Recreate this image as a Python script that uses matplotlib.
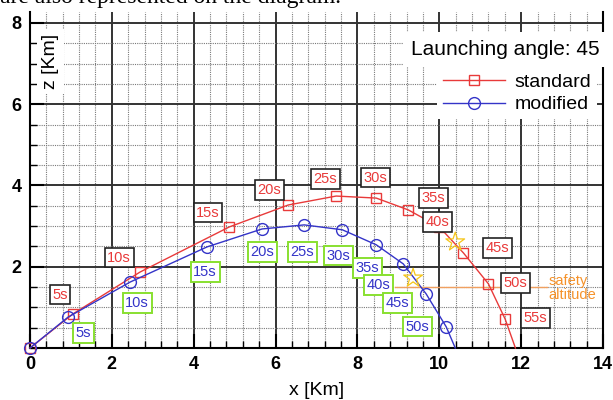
import numpy as np
import matplotlib.pyplot as plt
from matplotlib.lines import Line2D

plt.rcParams['font.family'] = ['Liberation Sans', 'DejaVu Sans']

# trajectory points every 5 s (last point = impact, no marker)
std_x = [0, 1.05, 2.69, 4.87, 6.31, 7.48, 8.46, 9.24, 10.0, 10.59, 11.2, 11.61, 11.86]
std_z = [0, 0.84, 1.87, 2.98, 3.52, 3.74, 3.69, 3.40, 2.98, 2.34, 1.58, 0.71, 0.0]
mod_x = [0, 0.93, 2.44, 4.33, 5.67, 6.70, 7.63, 8.46, 9.12, 9.68, 10.17, 10.39]
mod_z = [0, 0.76, 1.62, 2.49, 2.93, 3.03, 2.91, 2.54, 2.07, 1.33, 0.52, 0.0]

std_times = ['5s', '10s', '15s', '20s', '25s', '30s', '35s', '40s', '45s', '50s', '55s']
mod_times = ['5s', '10s', '15s', '20s', '25s', '30s', '35s', '40s', '45s', '50s']

# where the time tags sit
std_lab_x = [0.73, 2.18, 4.35, 5.84, 7.21, 8.44, 9.85, 9.95, 11.42, 11.86, 12.35]
std_lab_z = [1.31, 2.22, 3.33, 3.89, 4.16, 4.19, 3.69, 3.10, 2.46, 1.60, 0.74]
mod_lab_x = [1.30, 2.62, 4.28, 5.67, 6.65, 7.53, 8.24, 8.51, 8.97, 9.46]
mod_lab_z = [0.37, 1.11, 1.87, 2.36, 2.36, 2.27, 1.97, 1.55, 1.11, 0.52]

# stars on the curves
star_x = [10.39, 9.36]
star_z = [2.61, 1.72]

safety_z = 1.5
safety_x = [8.92, 12.64]

red = '#e83a3a'
blue = '#3434c8'

fig = plt.figure(figsize=(6.13, 4.0), dpi=100)
# caption line of the page above, cut by the crop
fig.text(0.0, 0.992, 'are also represented on the diagram.', family='Liberation Serif',
         fontsize=17, va='baseline', ha='left')
ax = fig.add_axes([30/613, 52/400, 573/613, 336/400])

ax.plot(std_x, std_z, color=red, lw=1.0, marker='s', ms=7, mfc='none', mec=red, mew=1.0,
        markevery=list(range(len(std_x) - 1)), zorder=4, clip_on=False)
ax.plot(mod_x, mod_z, color=blue, lw=1.0, marker='o', ms=8.5, mfc='none', mec=blue, mew=1.0,
        markevery=list(range(len(mod_x) - 1)), zorder=4, clip_on=False)

ax.plot(safety_x, [safety_z, safety_z], color='#f0a060', lw=1.0, zorder=3)
ax.text(13.14, 1.66, 'safety', color='#f5922a', fontsize=10.5, ha='center', va='center')
ax.text(13.24, 1.30, 'altitude', color='#f5922a', fontsize=10.5, ha='center', va='center')

ax.scatter(star_x, star_z, marker='*', s=200, facecolors='none', edgecolors='#f5c518',
           linewidths=0.9, zorder=5)

for t, x, z in zip(std_times, std_lab_x, std_lab_z):
    ax.text(x, z, t, color=red, fontsize=10.5, ha='center', va='center', zorder=6,
            bbox=dict(boxstyle='square,pad=0.18', fc='white', ec='#222222', lw=1.2))
for t, x, z in zip(mod_times, mod_lab_x, mod_lab_z):
    ax.text(x, z, t, color=blue, fontsize=10.5, ha='center', va='center', zorder=6,
            bbox=dict(boxstyle='square,pad=0.18', fc='white', ec='#88e030', lw=1.4))

ax.set_xlim(0, 14)
ax.set_ylim(0, 8.27)
ax.set_xticks(np.arange(0, 15, 2))
ax.set_xticks(np.arange(0, 14.01, 0.4), minor=True)
ax.set_yticks([2, 4, 6, 8])
ax.set_yticks(np.arange(0, 8.01, 0.5), minor=True)
ax.grid(which='major', color='#333333', lw=1.4, ls='-', zorder=1)
ax.grid(which='minor', color='#7a7a7a', lw=0.8, ls=(0, (1, 1)), zorder=1)
ax.set_axisbelow(True)
ax.tick_params(which='major', direction='in', length=10, width=1.5, labelsize=13, pad=6)
ax.tick_params(which='minor', direction='in', length=5, width=1)
for lab in ax.get_xticklabels() + ax.get_yticklabels():
    lab.set_fontweight('bold')
ax.spines['top'].set_visible(False)
for s in ['left', 'bottom', 'right']:
    ax.spines[s].set_linewidth(1.5)
    ax.spines[s].set_color('black')

ax.set_xlabel('x [Km]', fontsize=14, labelpad=6)
ax.text(0.5, 7.05, 'z [Km]', rotation=90, fontsize=14, ha='center', va='center', zorder=2,
        bbox=dict(boxstyle='square,pad=0.25', fc='white', ec='none'))

ax.text(0.994, 0.888, 'Launching angle: 45', transform=ax.transAxes, fontsize=15,
        ha='right', va='center', zorder=7, clip_on=False,
        bbox=dict(boxstyle='square,pad=0.4', fc='white', ec='none'))

handles = [Line2D([], [], color=red, lw=1.0, marker='s', ms=7, mfc='none', mec=red),
           Line2D([], [], color=blue, lw=1.0, marker='o', ms=8.5, mfc='none', mec=blue)]
leg = ax.legend(handles, ['standard', 'modified'], loc='upper right',
                bbox_to_anchor=(0.99, 0.835), fontsize=14, frameon=True, fancybox=False,
                handlelength=3.2, handletextpad=0.5, labelspacing=0.25, borderpad=0.3,
                borderaxespad=0)
leg.get_frame().set_facecolor('white')
leg.get_frame().set_edgecolor('none')
leg.get_frame().set_alpha(1)

fig.savefig('out.png', dpi=100)
